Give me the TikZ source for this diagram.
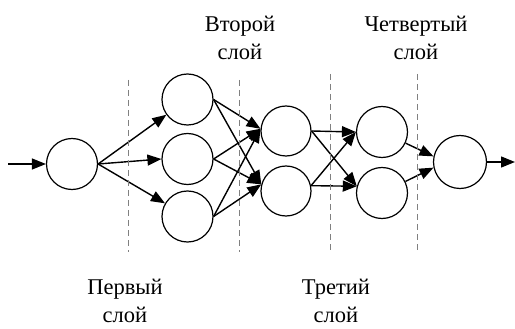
\documentclass[tikz,border=0pt]{standalone}
\usepackage{fontspec}
\setmainfont{Liberation Serif}
\newfontfamily\labfont{Liberation Serif}
\usetikzlibrary{arrows.meta}
\begin{document}
\begin{tikzpicture}[x=1pt,y=-1pt,
  neuron/.style={draw,circle,line width=1.2pt,minimum size=51pt,inner sep=0pt},
  link/.style={line width=1.4pt,-{Triangle[length=14pt,width=11pt]}},
  sep/.style={draw=gray,dashed,dash pattern=on 6pt off 4pt,line width=0.9pt},
  lab/.style={align=center,font=\labfont\fontsize{22.5}{28}\selectfont,inner sep=0pt}]
\useasboundingbox (0,0) rectangle (515,329);
\node[neuron] (in) at (72,164) {};
\node[neuron] (a1) at (187.5,99.5) {};
\node[neuron] (a2) at (187.5,159) {};
\node[neuron] (a3) at (187.5,216.5) {};
\node[neuron,minimum size=50pt] (b1) at (286,131) {};
\node[neuron,minimum size=50pt] (b2) at (286,191) {};
\node[neuron] (c1) at (382,132) {};
\node[neuron] (c2) at (382,193) {};
\node[neuron,minimum size=53pt] (out) at (460,162) {};
\coordinate (src) at (8,164);
\coordinate (dst) at (515,162);
\draw[link] (src) -- (in);
\draw[link] (in.east) -- (a1);
\draw[link] (in.east) -- (a2.west);
\draw[link] (in.east) -- (a3);
\foreach \s in {a1,a2,a3}{
  \draw[link] (\s.east) -- (b1.175);
  \draw[link] (\s.east) -- (b2.165);
}
\draw[link] (b1.east) -- (c1.west);
\draw[link] (b1.east) -- (c2.165);
\draw[link] (b2.12) -- (c1.west);
\draw[link] (b2.12) -- (c2.165);
\draw[link] (c1) -- (out.168);
\draw[link] (c2) -- (out.192);
\draw[link] (out) -- (dst);
\coordinate (d1t) at (128,80); \coordinate (d1b) at (128,252);
\coordinate (d2t) at (239,80); \coordinate (d2b) at (239,252);
\coordinate (d3t) at (330,74); \coordinate (d3b) at (330,253);
\coordinate (d4t) at (417,74); \coordinate (d4b) at (417,253);
\draw[sep] (d1t) -- (d1b);
\draw[sep] (d2t) -- (d2b);
\draw[sep] (d3t) -- (d3b);
\draw[sep] (d4t) -- (d4b);
\node[lab] (l2) at (240,38) {Второй\\слой};
\node[lab] (l4) at (416,38) {Четвертый\\слой};
\node[lab] (l1) at (125,301) {Первый\\слой};
\node[lab] (l3) at (336,301) {Третий\\слой};
\end{tikzpicture}
\end{document}
